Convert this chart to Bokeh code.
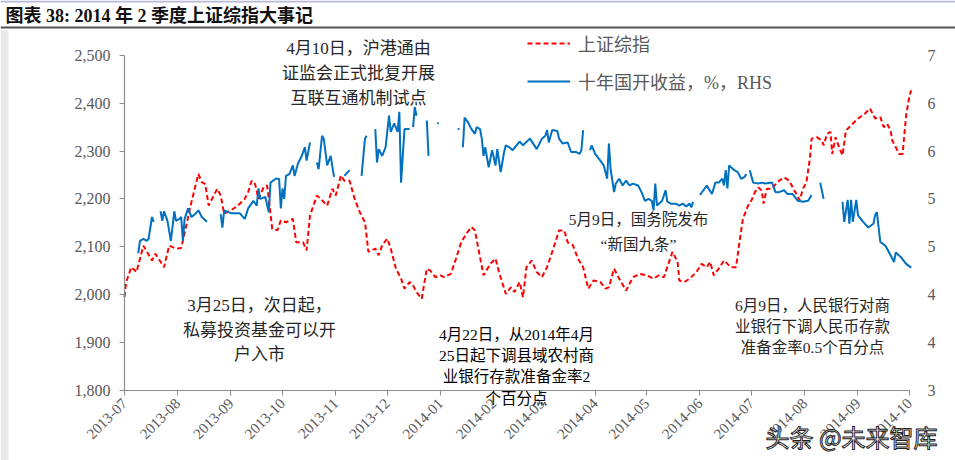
import math
import numpy as np
import pandas as pd
from bokeh.plotting import figure
from bokeh.models import (LinearAxis, Range1d, FixedTicker, NumeralTickFormatter,
                          DatetimeTickFormatter, MonthsTicker, Label, Legend, LegendItem,
                          BoxAnnotation, ColumnDataSource)
from bokeh.embed import file_html
from bokeh.resources import INLINE

NaN = float("nan")

# ---------------- data ----------------
sh_dates = [
    "2013-07-01", "2013-07-02", "2013-07-05", "2013-07-08", "2013-07-12", "2013-07-17", "2013-07-19",
    "2013-07-24", "2013-07-27", "2013-07-31", "2013-08-03", "2013-08-06", "2013-08-08", "2013-08-13",
    "2013-08-15", "2013-08-17", "2013-08-19", "2013-08-24", "2013-08-26", "2013-08-28", "2013-09-01",
    "2013-09-05", "2013-09-09", "2013-09-11", "2013-09-13", "2013-09-15", "2013-09-17", "2013-09-20",
    "2013-09-22", "2013-09-23", "2013-09-25", "2013-09-28", "2013-09-30", "2013-10-03", "2013-10-07",
    "2013-10-09", "2013-10-13", "2013-10-15", "2013-10-17", "2013-10-21", "2013-10-24", "2013-10-27",
    "2013-10-30", "2013-11-01", "2013-11-04", "2013-11-06", "2013-11-09", "2013-11-12", "2013-11-15",
    "2013-11-18", "2013-11-20", "2013-11-24", "2013-11-26", "2013-11-28", "2013-12-01", "2013-12-03",
    "2013-12-06", "2013-12-09", "2013-12-11", "2013-12-14", "2013-12-16", "2013-12-18", "2013-12-21",
    "2013-12-24", "2013-12-26", "2013-12-29", "2014-01-01", "2014-01-03", "2014-01-07", "2014-01-10",
    "2014-01-13", "2014-01-16", "2014-01-19", "2014-01-21", "2014-01-23", "2014-01-26", "2014-01-30",
    "2014-02-02", "2014-02-04", "2014-02-08", "2014-02-11", "2014-02-13", "2014-02-16", "2014-02-18",
    "2014-02-20", "2014-02-23", "2014-02-26", "2014-03-01", "2014-03-04", "2014-03-07", "2014-03-11",
    "2014-03-14", "2014-03-16", "2014-03-19", "2014-03-22", "2014-03-25", "2014-03-28", "2014-03-31",
    "2014-04-04", "2014-04-07", "2014-04-09", "2014-04-12", "2014-04-15", "2014-04-19", "2014-04-23",
    "2014-04-27", "2014-05-01", "2014-05-05", "2014-05-08", "2014-05-11", "2014-05-13", "2014-05-16",
    "2014-05-19", "2014-05-20", "2014-05-23", "2014-05-26", "2014-05-30", "2014-06-02", "2014-06-05",
    "2014-06-07", "2014-06-09", "2014-06-12", "2014-06-15", "2014-06-19", "2014-06-22", "2014-06-24",
    "2014-06-26", "2014-06-29", "2014-07-01", "2014-07-03", "2014-07-05", "2014-07-07", "2014-07-08",
    "2014-07-10", "2014-07-13", "2014-07-16", "2014-07-20", "2014-07-23", "2014-07-25", "2014-07-27",
    "2014-07-29", "2014-07-31", "2014-08-02", "2014-08-04", "2014-08-05", "2014-08-08", "2014-08-11",
    "2014-08-12", "2014-08-14", "2014-08-16", "2014-08-17", "2014-08-19", "2014-08-21", "2014-08-23",
    "2014-08-25", "2014-08-28", "2014-09-01", "2014-09-05", "2014-09-08", "2014-09-11", "2014-09-14",
    "2014-09-16", "2014-09-18", "2014-09-20", "2014-09-21", "2014-09-23", "2014-09-25", "2014-09-27",
    "2014-09-29", "2014-10-01", "2014-10-02",
]
sh_values = [
    1995, 2026, 2057, 2047, 2102, 2071, 2085,
    2057, 2102, 2096, 2097, 2144, 2179, 2252,
    2235, 2231, 2186, 2221, 2207, 2169, 2176,
    2186, 2200, 2214, 2238, 2231, 2200, 2224,
    2228, 2200, 2137, 2134, 2155, 2151, 2158,
    2109, 2109, 2092, 2165, 2207, 2197, 2186,
    2221, 2207, 2249, 2238, 2238, 2200, 2172,
    2151, 2089, 2096, 2082, 2103, 2117, 2096,
    2054, 2033, 2012, 2026, 2019, 2005, 1991,
    2054, 2050, 2036, 2040, 2036, 2043, 2075,
    2109, 2127, 2141, 2134, 2096, 2040, 2064,
    2075, 2047, 2001, 2015, 2005, 2026, 1994,
    2057, 2071, 2047, 2036, 2057, 2089, 2134,
    2134, 2109, 2103, 2075, 2057, 2012, 2029,
    2026, 2012, 2015, 2054, 2033, 2008, 2036,
    2043, 2040, 2033, 2040, 2036, 2057, 2089,
    2068, 2029, 2026, 2033, 2047, 2064, 2057,
    2068, 2040, 2054, 2071, 2057, 2057, 2109,
    2158, 2186, 2197, 2214, 2224, 2217, 2190,
    2221, 2221, 2235, 2245, 2238, 2224, 2211,
    2197, 2221, 2235, 2284, 2326, 2329, 2322,
    2312, 2336, 2340, 2294, 2329, 2308, 2291,
    2343, 2354, 2368, 2378, 2389, 2368, 2371,
    2350, 2357, 2343, 2322, 2308, 2294, 2294,
    2374, 2416, 2427,
]

cdb_dates = [
    "2013-07-09", "2013-07-10", "2013-07-12", "2013-07-14", "2013-07-15", "2013-07-17", "2013-07-18",
    "2013-07-20", "2013-07-22", "2013-07-23", "2013-07-24", "2013-07-26", "2013-07-28", "2013-07-30",
    "2013-07-31", "2013-08-02", "2013-08-03", "2013-08-04", "2013-08-05", "2013-08-07", "2013-08-09",
    "2013-08-11", "2013-08-13", "2013-08-15", "2013-08-18", "2013-08-22", "2013-08-26", "2013-08-27",
    "2013-08-28", "2013-09-01", "2013-09-06", "2013-09-09", "2013-09-11", "2013-09-14", "2013-09-16",
    "2013-09-17", "2013-09-18", "2013-09-21", "2013-09-23", "2013-09-24", "2013-09-27", "2013-09-29",
    "2013-09-30", "2013-10-01", "2013-10-02", "2013-10-03", "2013-10-05", "2013-10-07", "2013-10-08",
    "2013-10-10", "2013-10-12", "2013-10-14", "2013-10-15", "2013-10-17", "2013-10-19", "2013-10-21",
    "2013-10-22", "2013-10-24", "2013-10-25", "2013-10-27", "2013-10-29", "2013-10-31", "2013-11-03",
    "2013-11-06", "2013-11-09", "2013-11-12", "2013-11-16", "2013-11-18", "2013-11-19", "2013-11-21",
    "2013-11-24", "2013-11-25", "2013-11-26", "2013-11-28", "2013-11-30", "2013-12-02", "2013-12-03",
    "2013-12-05", "2013-12-07", "2013-12-08", "2013-12-09", "2013-12-11", "2013-12-14", "2013-12-15",
    "2013-12-16", "2013-12-17", "2013-12-18", "2013-12-20", "2013-12-24", "2013-12-25", "2013-12-27",
    "2013-12-30", "2013-12-31", "2014-01-05", "2014-01-11", "2014-01-12", "2014-01-13", "2014-01-14",
    "2014-01-15", "2014-01-17", "2014-01-19", "2014-01-21", "2014-01-22", "2014-01-24", "2014-01-25",
    "2014-01-26", "2014-01-27", "2014-01-29", "2014-01-31", "2014-02-02", "2014-02-03", "2014-02-05",
    "2014-02-07", "2014-02-08", "2014-02-10", "2014-02-12", "2014-02-16", "2014-02-18", "2014-02-22",
    "2014-02-26", "2014-03-01", "2014-03-03", "2014-03-04", "2014-03-05", "2014-03-07", "2014-03-10",
    "2014-03-11", "2014-03-13", "2014-03-16", "2014-03-18", "2014-03-21", "2014-03-23", "2014-03-24",
    "2014-03-25", "2014-03-27", "2014-03-29", "2014-03-30", "2014-04-01", "2014-04-04", "2014-04-06",
    "2014-04-08", "2014-04-09", "2014-04-10", "2014-04-12", "2014-04-13", "2014-04-15", "2014-04-17",
    "2014-04-19", "2014-04-21", "2014-04-23", "2014-04-26", "2014-04-28", "2014-04-30", "2014-05-02",
    "2014-05-04", "2014-05-05", "2014-05-06", "2014-05-07", "2014-05-10", "2014-05-12", "2014-05-13",
    "2014-05-15", "2014-05-18", "2014-05-20", "2014-05-22", "2014-05-24", "2014-05-26", "2014-05-27",
    "2014-05-28", "2014-05-30", "2014-06-01", "2014-06-03", "2014-06-05", "2014-06-08", "2014-06-10",
    "2014-06-12", "2014-06-14", "2014-06-15", "2014-06-16", "2014-06-17", "2014-06-18", "2014-06-21",
    "2014-06-23", "2014-06-25", "2014-06-27", "2014-06-28", "2014-06-29", "2014-06-30", "2014-07-02",
    "2014-07-05", "2014-07-07", "2014-07-09", "2014-07-13", "2014-07-15", "2014-07-17", "2014-07-20",
    "2014-07-22", "2014-07-25", "2014-07-28", "2014-07-31", "2014-08-03", "2014-08-05", "2014-08-07",
    "2014-08-10", "2014-08-12", "2014-08-15", "2014-08-23", "2014-08-24", "2014-08-26", "2014-08-27",
    "2014-08-28", "2014-08-29", "2014-08-31", "2014-09-01", "2014-09-04", "2014-09-07", "2014-09-10",
    "2014-09-11", "2014-09-12", "2014-09-14", "2014-09-17", "2014-09-20", "2014-09-22", "2014-09-23",
    "2014-09-26", "2014-09-29", "2014-10-02",
]
cdb_values = [
    4.43, 4.56, 4.58, 4.56, 4.58, 4.81, 4.76,
    NaN, 4.87, 4.77, 4.87, 4.77, 4.56, 4.87,
    4.77, 4.79, 4.81, 4.56, 4.79, 4.90, 4.81,
    4.84, 4.88, 4.81, 4.76, NaN, 4.84, 4.70,
    4.88, 4.85, 4.85, 4.79, 4.90, 4.98, 4.93,
    5.11, 5.00, 5.02, 4.86, 5.17, 5.21, 5.21,
    4.90, 5.11, 5.00, 5.24, 5.26, 5.35, 5.24,
    5.37, 5.44, 5.54, 5.40, 5.59, NaN, 5.38,
    5.31, 5.66, 5.63, 5.35, 5.45, 5.23, NaN,
    5.24, 5.30, NaN, 5.24, 5.63, 5.66, NaN,
    5.73, 5.38, 5.52, 5.45, 5.54, 5.87, 5.70,
    5.79, 5.70, 5.91, 5.17, 5.73, 5.73, NaN,
    5.75, 5.96, 5.87, NaN, 5.82, 5.45, NaN,
    5.79, 5.79, NaN, 5.73, 5.73, NaN, 5.54,
    5.85, 5.80, 5.73, 5.68, 5.75, 5.73, 5.63,
    5.45, 5.54, 5.33, 5.51, 5.35, 5.52, 5.28,
    5.49, 5.56, 5.54, 5.51, 5.60, 5.56, 5.63,
    5.52, 5.63, 5.66, 5.72, 5.59, 5.72, 5.71,
    5.63, 5.58, 5.59, 5.49, 5.49, 5.47, 5.51,
    5.72, NaN, 5.51, 5.56, 5.47, 5.40, 5.35,
    5.21, 5.58, 5.31, 5.07, 5.16, 5.21, 5.14,
    5.19, 5.14, 5.16, 5.14, 5.07, 4.98, 5.00,
    4.98, 4.88, 5.16, 4.93, 4.98, 5.09, 4.97,
    4.95, 4.95, 4.93, 4.95, 4.92, 4.95, 4.91,
    4.97, NaN, 5.04, 5.09, 5.14, 5.05, 5.17,
    5.17, 5.21, 5.14, 5.30, 5.11, 5.35, 5.30,
    5.28, 5.21, 5.23, 5.26, NaN, 5.30, 5.17,
    5.16, 5.17, 5.16, 5.17, 5.07, 5.07, 5.09,
    5.05, 5.05, 4.98, 4.97, 4.98, 5.04, NaN,
    5.17, 5.00, NaN, 4.97, 4.76, 4.99, 4.74,
    4.99, 4.76, 4.99, 4.83, 4.76, 4.70, 4.74,
    4.83, 4.86, 4.55, 4.51, 4.41, 4.34, 4.44,
    4.39, 4.32, 4.28,
]

left_ticks = [1800, 1900, 2000, 2100, 2200, 2300, 2400, 2500]
right_ticks = [3.0, 3.5, 4.0, 4.5, 5.0, 5.5, 6.0, 6.5]
x_start, x_end = "2013-07-01", "2014-10-01"

sh_name = "上证综指"
cdb_name = "十年国开收益，%，RHS"
title_text = "图表 38: 2014 年 2 季度上证综指大事记"
watermark = "头条 @未来智库"

notes = [
    # (lines, center canvas x, first-line canvas y, line step, size, color)
    (["4月10日，沪港通由", "证监会正式批复开展", "互联互通机制试点"], 358, 48, 25, "17px", "#262626"),
    (["3月25日，次日起，", "私募投资基金可以开", "户入市"], 259, 305, 24.5, "17px", "#262626"),
    (["4月22日，从2014年4月", "25日起下调县域农村商", "业银行存款准备金率2", "个百分点"], 516, 334, 21.2, "15.5px", "#000000"),
    (["5月9日，国务院发布", "“新国九条”"], 638, 219, 25, "15.5px", "#262626"),
    (["6月9日，人民银行对商", "业银行下调人民币存款", "准备金率0.5个百分点"], 812, 305, 21, "15.5px", "#262626"),
]

# ---------------- layout (canvas pixels) ----------------
W, H = 955, 460
FL, FR, FT, FB = 124, 909, 55, 389.5   # plot-area edges inside the canvas

SERIF_CJK = "'Liberation Serif', 'Noto Sans CJK SC'"
GRAY = "#595959"
AXIS = "#8C8C8C"

ms0 = pd.Timestamp(x_start).value / 1e6
ms1 = pd.Timestamp(x_end).value / 1e6
# extend the ranges so the whole canvas is the frame, with the axes at the plot-area edges
xs = (ms1 - ms0) / (FR - FL)
x_rng = Range1d(ms0 - FL * xs, ms1 + (W - FR) * xs)
ly0, ly1 = left_ticks[0], left_ticks[-1]
ls = (ly1 - ly0) / (FB - FT)
y_rng = Range1d(ly0 - (H - FB) * ls, ly1 + FT * ls)
ry0, ry1 = right_ticks[0], right_ticks[-1]
rs = (ry1 - ry0) / (FB - FT)
r_rng = Range1d(ry0 - (H - FB) * rs, ry1 + FT * rs)

sh_src = ColumnDataSource(dict(date=pd.to_datetime(sh_dates), v=sh_values))
cdb_src = ColumnDataSource(dict(date=pd.to_datetime(cdb_dates), v=cdb_values))

p = figure(width=W, height=H, x_axis_type="datetime", x_range=x_rng, y_range=y_rng,
           output_backend="svg", toolbar_location=None, min_border=0)
p.extra_y_ranges = {"rhs": r_rng}

p.xgrid.visible = False
p.ygrid.visible = False
p.outline_line_color = None
p.background_fill_color = "white"
p.border_fill_color = "white"

ya = p.yaxis[0]
ya.ticker = FixedTicker(ticks=left_ticks)
ya.formatter = NumeralTickFormatter(format="0,0")
ya.bounds = (ly0, ly1)
ya.fixed_location = ms0

xa = p.xaxis[0]
xa.ticker = MonthsTicker(months=list(range(1, 13)))
xa.formatter = DatetimeTickFormatter(months="%Y-%m", days="%Y-%m", years="%Y-%m")
xa.major_label_orientation = math.pi / 4
xa.bounds = (ms0, ms1)
xa.fixed_location = ly0

ra = LinearAxis(y_range_name="rhs", ticker=FixedTicker(ticks=right_ticks),
                formatter=NumeralTickFormatter(format="0"), bounds=(ry0, ry1),
                fixed_location=ms1)
p.add_layout(ra, "right")

for ax in (ya, xa, ra):
    ax.axis_line_color = AXIS
    ax.axis_line_width = 1.2
    ax.major_tick_line_color = AXIS
    ax.major_tick_out = 5
    ax.major_tick_in = 0
    ax.minor_tick_line_color = None
    ax.major_label_text_font = "Liberation Serif"
    ax.major_label_text_color = GRAY
    ax.major_label_text_font_size = "16px"
xa.major_label_text_font_size = "15px"
xa.major_label_standoff = 6
ya.major_label_standoff = 9
ra.axis_line_color = None
ra.major_tick_line_color = None
ra.major_label_standoff = 13

r_sh = p.line("date", "v", source=sh_src, line_color="#FF0000", line_width=2, line_dash="5 3")
r_cdb = p.line("date", "v", source=cdb_src, y_range_name="rhs", line_color="#0070C0", line_width=2)

legend = Legend(items=[LegendItem(label=sh_name, renderers=[r_sh]),
                       LegendItem(label=cdb_name, renderers=[r_cdb])],
                location=(527, H - 94), orientation="vertical",
                border_line_color=None, background_fill_alpha=0,
                glyph_width=43, glyph_height=20, label_height=20, spacing=12,
                label_standoff=8, padding=0, margin=0,
                label_text_font=SERIF_CJK, label_text_font_size="18px",
                label_text_color=GRAY)
p.add_layout(legend)

for lines, cx, y0, step, size, color in notes:
    for i, t in enumerate(lines):
        p.add_layout(Label(x=cx, y=y0 + i * step, x_units="canvas", y_units="canvas",
                           text=t, text_align="center", text_baseline="middle",
                           text_font=SERIF_CJK, text_font_size=size, text_color=color))

def band(l, r, t, b, color):
    p.add_layout(BoxAnnotation(left=l, right=r, top=t, bottom=b, left_units="canvas",
                               right_units="canvas", top_units="canvas", bottom_units="canvas",
                               fill_color=color, fill_alpha=1, line_color=None, level="underlay"))

band(0, W, 0, 2, "#B8B8D8")
band(0, W, 26, 28, "#555555")
band(0, 8, 30, H, "#E8E8E8")

p.add_layout(Label(x=5, y=15, x_units="canvas", y_units="canvas", text=title_text,
                   text_align="left", text_baseline="middle", text_font=SERIF_CJK,
                   text_font_size="18px", text_font_style="bold", text_color="#111111"))

p.add_layout(Label(x=765, y=436, x_units="canvas", y_units="canvas", text=watermark,
                   text_align="left", text_baseline="middle", text_font="Noto Sans CJK SC",
                   text_font_size="24px", text_color="white", text_outline_color="#222222"))

open("out.html", "w").write(file_html(p, INLINE))
